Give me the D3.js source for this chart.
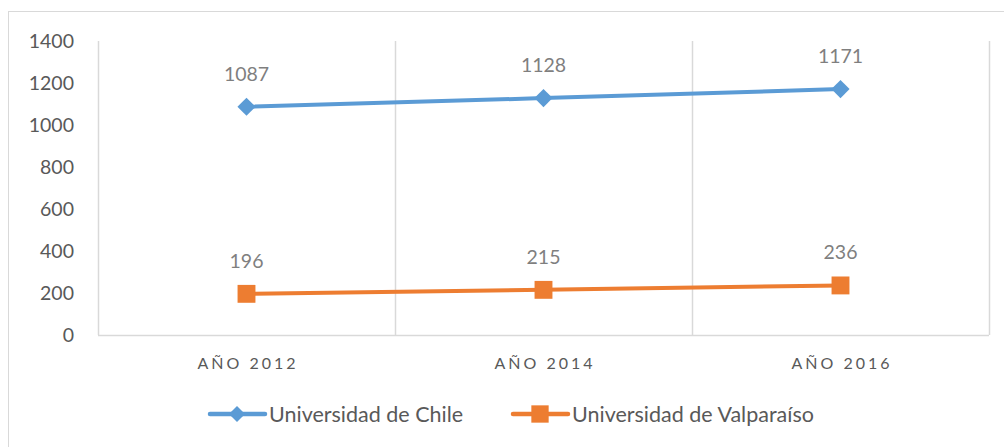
<!DOCTYPE html>
<html>
<head>
<meta charset="utf-8">
<script src="https://cdn.jsdelivr.net/npm/d3@7"></script>
<style>
  body { margin: 0; background: #fff; }
  svg { display: block; font-family: Lato, "Open Sans", sans-serif; }
</style>
</head>
<body>
<div id="vis"></div>
<script>
const categories = ["AÑO 2012", "AÑO 2014", "AÑO 2016"];
const seriesNames = ["Universidad de Chile", "Universidad de Valparaíso"];
const chileValues = [1087, 1128, 1171];
const valpoValues = [196, 215, 236];
const yTicks = [0, 200, 400, 600, 800, 1000, 1200, 1400];

const W = 1004, H = 447;
const plot = { left: 98, right: 989, top: 41, bottom: 335 };

const svg = d3.select("#vis").append("svg")
  .attr("width", W)
  .attr("height", H);

// outer frame (cut by the window at right and bottom)
svg.append("rect")
  .attr("x", 8.5).attr("y", 11.5)
  .attr("width", W).attr("height", H)
  .attr("fill", "none")
  .attr("stroke", "#d9d9d9")
  .attr("stroke-width", 1);

const x = d3.scaleBand()
  .domain(categories)
  .range([plot.left, plot.right]);

const y = d3.scaleLinear()
  .domain([0, 1400])
  .range([plot.bottom, plot.top]);

// vertical gridlines at category boundaries
const bounds = categories.map(c => x(c)).concat([plot.right]);
svg.selectAll("line.grid")
  .data(bounds)
  .join("line")
  .attr("class", "grid")
  .attr("x1", d => Math.round(d) + 0.5)
  .attr("x2", d => Math.round(d) + 0.5)
  .attr("y1", plot.top)
  .attr("y2", plot.bottom)
  .attr("stroke", "#d9d9d9")
  .attr("stroke-width", 1.5);

// x axis line
svg.append("line")
  .attr("x1", plot.left).attr("x2", plot.right)
  .attr("y1", plot.bottom + 0.5).attr("y2", plot.bottom + 0.5)
  .attr("stroke", "#d9d9d9")
  .attr("stroke-width", 1.5);

// y tick labels
svg.selectAll("text.ytick")
  .data(yTicks)
  .join("text")
  .attr("class", "ytick")
  .attr("x", 74)
  .attr("y", d => y(d))
  .attr("dy", "0.36em")
  .attr("text-anchor", "end")
  .attr("font-size", "19.5px")
  .attr("fill", "#595959")
  .text(d => d);

// x tick labels
svg.selectAll("text.xtick")
  .data(categories)
  .join("text")
  .attr("class", "xtick")
  .attr("x", d => x(d) + x.bandwidth() / 2 + 1.5)
  .attr("y", 369)
  .attr("text-anchor", "middle")
  .attr("font-size", "16px")
  .attr("letter-spacing", "3px")
  .attr("fill", "#595959")
  .text(d => d);

const diamond = { draw(ctx, size) {
  const r = Math.sqrt(size / 2);
  ctx.moveTo(0, -r); ctx.lineTo(r, 0); ctx.lineTo(0, r); ctx.lineTo(-r, 0); ctx.closePath();
} };

const series = [
  { name: seriesNames[0], values: chileValues, color: "#5b9bd5", shape: diamond, size: 165, legendSize: 130 },
  { name: seriesNames[1], values: valpoValues, color: "#ed7d31", shape: d3.symbolSquare, size: 320, legendSize: 300 }
];

const cx = i => x(categories[i]) + x.bandwidth() / 2;

series.forEach(s => {
  svg.append("path")
    .datum(s.values)
    .attr("fill", "none")
    .attr("stroke", s.color)
    .attr("stroke-width", 4)
    .attr("d", d3.line().x((d, i) => cx(i)).y(d => y(d)));

  svg.selectAll(null)
    .data(s.values)
    .join("path")
    .attr("transform", (d, i) => `translate(${cx(i)},${y(d)})`)
    .attr("d", d3.symbol().type(s.shape).size(s.size))
    .attr("fill", s.color);

  svg.selectAll(null)
    .data(s.values)
    .join("text")
    .attr("x", (d, i) => cx(i))
    .attr("y", d => y(d) - 26)
    .attr("text-anchor", "middle")
    .attr("font-size", "19.5px")
    .attr("fill", "#7f7f7f")
    .text(d => d);
});

// legend
const legendX = [210, 513];
series.forEach((s, i) => {
  const lx = legendX[i], ly = 414;
  svg.append("line")
    .attr("x1", lx).attr("x2", lx + 55)
    .attr("y1", ly).attr("y2", ly)
    .attr("stroke", s.color)
    .attr("stroke-width", 4.5)
    .attr("stroke-linecap", "round");
  svg.append("path")
    .attr("transform", `translate(${lx + 27},${ly})`)
    .attr("d", d3.symbol().type(s.shape).size(s.legendSize))
    .attr("fill", s.color);
  svg.append("text")
    .attr("x", lx + 59)
    .attr("y", ly)
    .attr("dy", "0.36em")
    .attr("font-size", "21.5px")
    .attr("fill", "#595959")
    .text(s.name);
});
</script>
</body>
</html>
